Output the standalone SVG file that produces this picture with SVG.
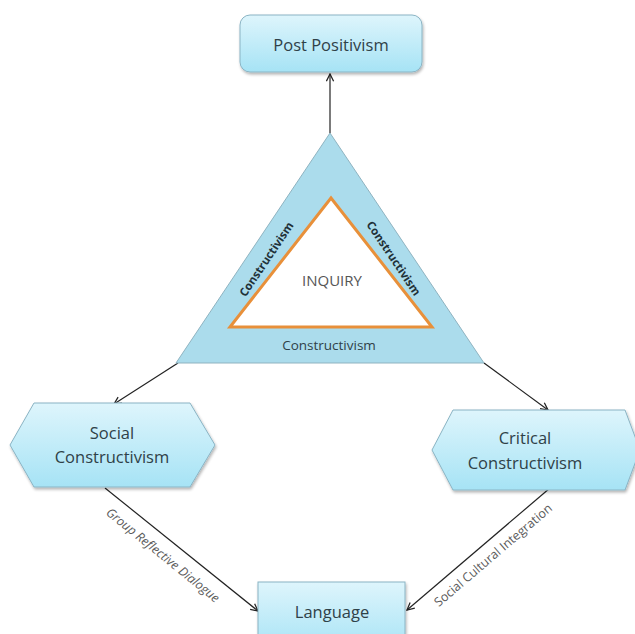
<svg xmlns="http://www.w3.org/2000/svg" width="635" height="634" viewBox="0 0 635 634">
<defs>
<linearGradient id="g" x1="0" y1="0" x2="0" y2="1">
<stop offset="0" stop-color="#def5fc"/>
<stop offset="1" stop-color="#a6e3f5"/>
</linearGradient>
<filter id="sh" x="-10%" y="-10%" width="130%" height="140%">
<feGaussianBlur in="SourceAlpha" stdDeviation="1.5"/>
<feOffset dx="1" dy="2"/>
<feComponentTransfer><feFuncA type="linear" slope="0.3"/></feComponentTransfer>
<feMerge><feMergeNode/><feMergeNode in="SourceGraphic"/></feMerge>
</filter>
<marker id="arr" viewBox="0 0 10 10" refX="9" refY="5" markerWidth="9" markerHeight="9" orient="auto" markerUnits="userSpaceOnUse">
<path d="M1,1 L9,5 L1,9" fill="none" stroke="#222" stroke-width="1.4"/>
</marker>
</defs>
<style>
.box{fill:url(#g);stroke:#8ab4c4;stroke-width:1;filter:url(#sh)}
.lbl{font-family:"Open Sans","Liberation Sans",sans-serif;fill:#2f4148;text-anchor:middle;dominant-baseline:central}
.edge{stroke:#222;stroke-width:1.2;fill:none;marker-end:url(#arr)}
.el{font-family:"Open Sans","Liberation Sans",sans-serif;font-size:12.5px;fill:#5a5a5a;text-anchor:middle;dominant-baseline:central}
.side{font-family:"Open Sans","Liberation Sans",sans-serif;font-size:11.5px;font-weight:bold;fill:#1f3138;text-anchor:middle;dominant-baseline:central}
</style>
<rect width="635" height="634" fill="#fff"/>
<g id="connectors">
<line class="edge" x1="330" y1="133" x2="330" y2="74"/>
<line class="edge" x1="178" y1="363" x2="114" y2="404"/>
<line class="edge" x1="484" y1="363" x2="548" y2="410"/>
<line class="edge" x1="105" y1="488" x2="258" y2="611"/>
<line class="edge" x1="550" y1="488" x2="407" y2="610"/>
<text class="el" font-style="italic" transform="translate(163,555) rotate(39)">Group Reflective Dialogue</text>
<text class="el" transform="translate(493,555) rotate(-40.5)">Social Cultural Integration</text>
</g>
<g id="post-positivism">
<rect class="box" x="240" y="15" width="182" height="57" rx="10"/>
<text class="lbl" x="331" y="44" font-size="16.5">Post Positivism</text>
</g>
<g id="inquiry-triangle">
<polygon points="330,133 176,363 484,363" fill="#abdcec" stroke="#8fb3c0" stroke-width="1"/>
<polygon points="331,198 230,327 432,327" fill="#fff" stroke="#e8903a" stroke-width="3" stroke-linejoin="miter"/>
<text class="lbl" x="332" y="280" font-size="15" style="fill:#555">INQUIRY</text>
<text class="side" transform="translate(266,259) rotate(-56)">Constructivism</text>
<text class="side" transform="translate(394,258) rotate(56)">Constructivism</text>
<text class="lbl" x="329" y="345" font-size="13.5">Constructivism</text>
</g>
<g id="social-constructivism">
<polygon class="box" points="10,445 34,403 190,403 215,445 190,487 34,487"/>
<text class="lbl" x="112" y="432" font-size="16.5">Social</text>
<text class="lbl" x="112" y="456" font-size="16.5">Constructivism</text>
</g>
<g id="critical-constructivism">
<polygon class="box" points="432,450 453,410 625,410 640,450 625,490 453,490"/>
<text class="lbl" x="525" y="437" font-size="16.5">Critical</text>
<text class="lbl" x="525" y="462" font-size="16.5">Constructivism</text>
</g>
<g id="language">
<rect class="box" x="258" y="582" width="147" height="70"/>
<text class="lbl" x="332" y="611" font-size="16.5">Language</text>
</g>
</svg>
